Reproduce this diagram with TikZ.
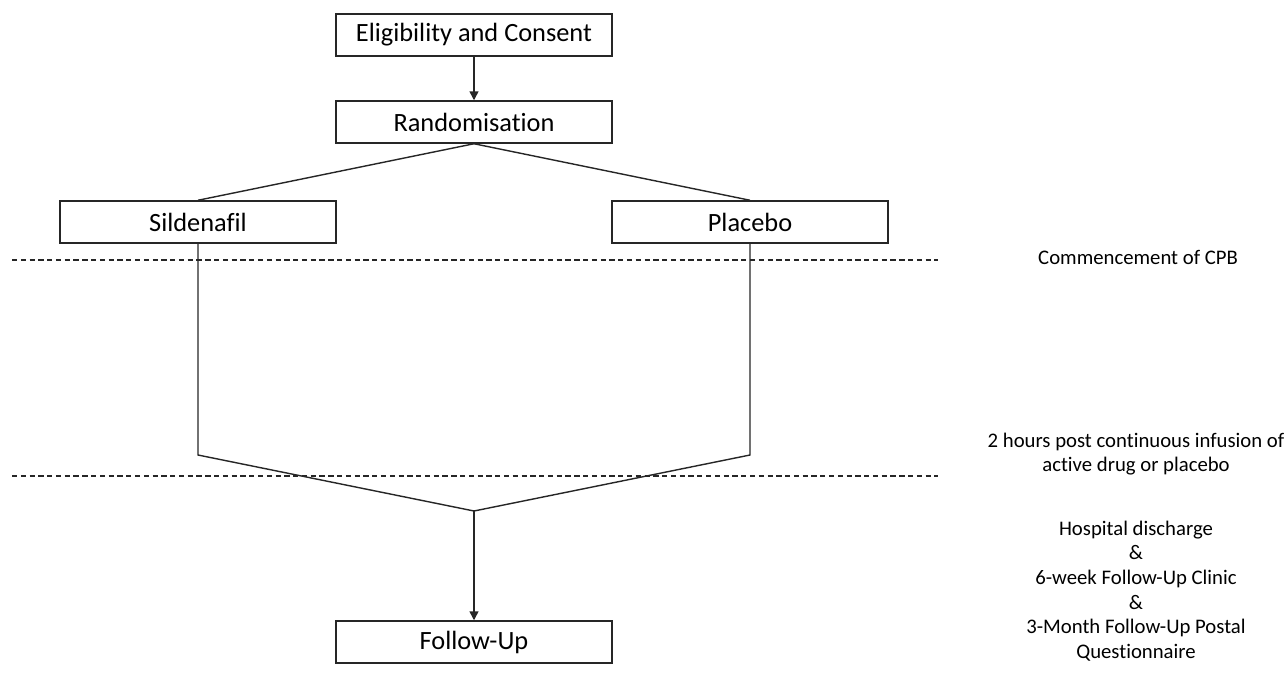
\documentclass[tikz,border=0pt]{standalone}
\usepackage{fontspec}
\setmainfont[Ligatures=NoCommon]{Carlito}
\usetikzlibrary{arrows.meta}
\tikzset
{
	my box/.style={draw=black!85,line width=0.85pt,minimum width=5.52cm,minimum height=0.84cm,inner sep=0pt,font=\fontsize{15}{17}\selectfont},
	my line/.style={draw=black!85,line width=0.8pt},
	my dash/.style={black!85,line width=0.6pt,dash pattern=on 3pt off 2pt},
	my note/.style={align=center,font=\fontsize{11.8}{14}\selectfont,inner sep=0pt}
}

\begin{document}
\begin{tikzpicture}[x=0.02cm,y=-0.02cm,line cap=butt,line join=miter]
		\useasboundingbox (0,0) rectangle (1287,680);
		% boxes
		\node[my box] (consent) at (474,35) {Eligibility and Consent};
		\node[my box] (random) at (474,122) {Randomisation};
		\node[my box] (sild) at (198,222) {Sildenafil};
		\node[my box] (placebo) at (750,222) {Placebo};
		\node[my box] (follow) at (474,642) {Follow-Up};
		% time lines
		\draw[my dash] (12,260) -- (938,260);
		\draw[my dash] (12,476) -- (938,476);
		% notes
		\node[my note] (cpb) at (1138,257) {Commencement of CPB};
		\node[my note] (infusion) at (1136,454) {2 hours post continuous infusion of\\active drug or placebo};
		\node[my note] (discharge) at (1136,591) {Hospital discharge\\\&\\6-week Follow-Up Clinic\\\&\\3-Month Follow-Up Postal\\Questionnaire};
		% connectors
		\coordinate (sildend) at (198,455);
		\coordinate (placend) at (750,455);
		\coordinate (join) at (474,511);
		\draw[my line,-{Triangle[width=5pt,length=5pt]}] (consent) -- (random);
		\draw[my line] (random.south) -- (sild.north);
		\draw[my line] (random.south) -- (placebo.north);
		\draw[my line] (sild.south) -- (sildend) -- (join);
		\draw[my line] (placebo.south) -- (placend) -- (join);
		\draw[my line,-{Triangle[width=5pt,length=5pt]}] (join) -- (follow);
	\end{tikzpicture}
\end{document}
